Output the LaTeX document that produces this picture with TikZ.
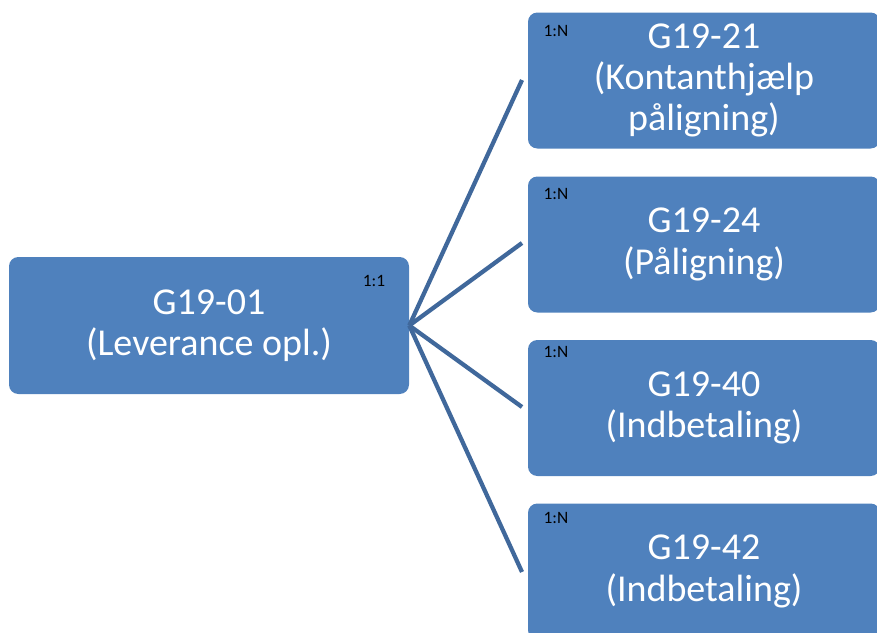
\documentclass[tikz,border=0pt]{standalone}
\usepackage{fontspec}
\setmainfont{Carlito}
\definecolor{boxblue}{RGB}{79,129,189}
\definecolor{linkblue}{RGB}{64,104,155}
\tikzset{
  card/.style={fill=boxblue, rounded corners=7pt, inner sep=0pt, text=white,
    align=center, font=\fontsize{28.5}{31}\selectfont},
  ratio/.style={font=\fontsize{13}{15}\selectfont, inner sep=0pt},
  link/.style={draw=linkblue, line width=3.2pt}
}
\begin{document}
\begin{tikzpicture}[x=0.75pt, y=-0.75pt]
   \useasboundingbox (0,0) rectangle (877,632);
   \clip (0,0) rectangle (877,632);
   % left box
   \node[card, minimum width=300pt, minimum height=102.75pt] (lev) at (209,325.5)
     {G19-01\\(Leverance opl.)};
   \node[ratio] (lev-r) at (374,281) {1:1};
   % boxes on the right
   \node[card, minimum width=264pt, minimum height=102pt] (g21) at (704,80.5)
     {G19-21\\(Kontanthjælp\\påligning)};
   \node[card, minimum width=264pt, minimum height=102pt] (g24) at (704,244.5)
     {G19-24\\(Påligning)};
   \node[card, minimum width=264pt, minimum height=102pt] (g40) at (704,408)
     {G19-40\\(Indbetaling)};
   \node[card, minimum width=264pt, minimum height=102pt] (g42) at (704,571.5)
     {G19-42\\(Indbetaling)};
   \node[ratio] (g21-r) at (556,30.5) {1:N};
   \node[ratio] (g24-r) at (556,194) {1:N};
   \node[ratio] (g40-r) at (556,352) {1:N};
   \node[ratio] (g42-r) at (556,518) {1:N};
   % end points of the links
   \coordinate (e21) at (522,80);
   \coordinate (e24) at (522,243);
   \coordinate (e40) at (522,407);
   \coordinate (e42) at (522,572);
   \draw[link] (lev.east) -- (e21);
   \draw[link] (lev.east) -- (e24);
   \draw[link] (lev.east) -- (e40);
   \draw[link] (lev.east) -- (e42);
\end{tikzpicture}
\end{document}
